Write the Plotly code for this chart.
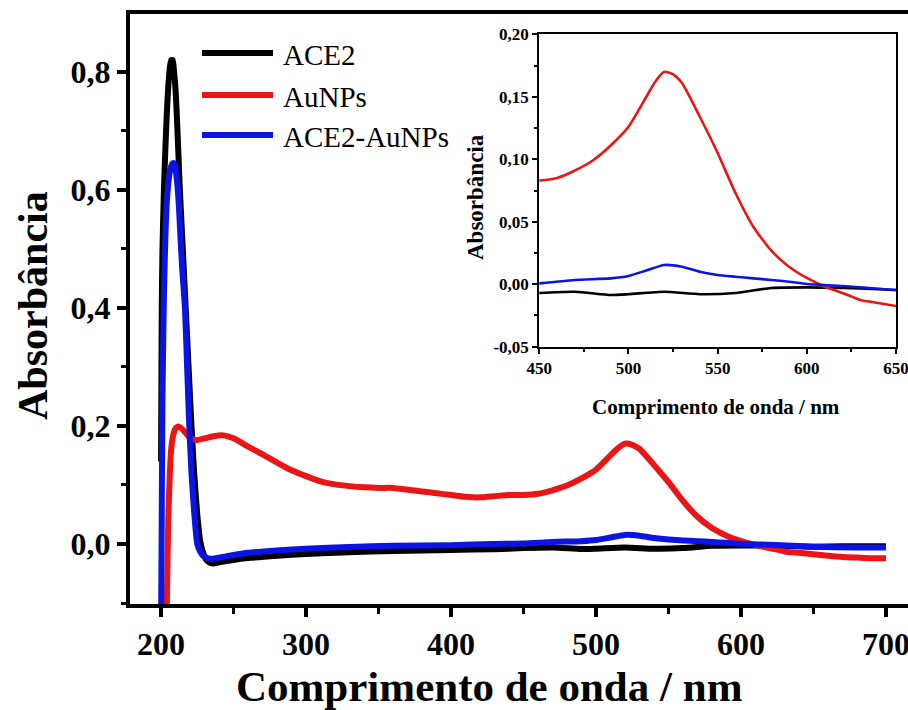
import plotly.graph_objects as go

# ---------------- data ----------------
ace2_nm = [200, 200.5, 201, 202, 203, 204, 205, 206, 207, 208, 209, 210, 211, 212, 213,
           215, 217, 219, 221, 223, 225, 227, 229, 231, 233, 236, 240, 250, 260, 280,
           300, 330, 360, 400, 430, 450, 470, 490, 500, 520, 540, 560, 580, 600, 620,
           640, 650, 670, 700]
ace2_abs = [0.14, 0.40, 0.50, 0.60, 0.67, 0.73, 0.775, 0.805, 0.82, 0.82, 0.80, 0.77, 0.72, 0.66, 0.60,
            0.50, 0.40, 0.30, 0.20, 0.115, 0.05, 0.005, -0.015, -0.026, -0.031, -0.033, -0.031, -0.027, -0.024, -0.020,
            -0.017, -0.014, -0.012, -0.010, -0.009, -0.007, -0.006, -0.0086, -0.008, -0.006, -0.008, -0.007, -0.003, -0.0025, -0.003,
            -0.004, -0.0046, -0.004, -0.004]

aunp_nm = [200, 202, 203, 204, 205, 206, 207, 208, 209, 210.5, 212, 214, 217, 220, 224,
           230, 237, 243, 250, 260, 270, 280, 290, 300, 310, 320, 330, 340, 350, 360,
           370, 380, 390, 400, 410, 420, 430, 440, 450, 460, 470, 480, 490, 500, 510,
           515, 520, 525, 530, 540, 550, 560, 570, 580, 590, 600, 610, 620, 630, 640,
           650, 660, 670, 680, 690, 700]
aunp_abs = [-0.6, -0.4, -0.25, -0.10, 0.04, 0.115, 0.16, 0.18, 0.19, 0.197, 0.199, 0.196, 0.188, 0.180, 0.176,
            0.179, 0.183, 0.184, 0.179, 0.165, 0.152, 0.138, 0.125, 0.115, 0.106, 0.101, 0.098, 0.096, 0.095, 0.095,
            0.092, 0.089, 0.086, 0.083, 0.080, 0.079, 0.081, 0.083, 0.083, 0.085, 0.091, 0.099, 0.111, 0.126, 0.150,
            0.162, 0.170, 0.168, 0.161, 0.134, 0.105, 0.073, 0.046, 0.027, 0.014, 0.005, -0.002, -0.007, -0.0126, -0.015,
            -0.0175, -0.020, -0.022, -0.023, -0.024, -0.024]

mix_nm = [200, 200.5, 201, 202, 203, 204, 205, 206, 207, 208, 209, 210, 211, 212, 213,
          214.5, 216.5, 218, 219.5, 221, 223, 225, 227, 229, 231, 234, 238, 245, 260, 280,
          300, 330, 360, 400, 430, 450, 470, 490, 500, 510, 520, 530, 540, 550, 560,
          570, 580, 590, 600, 620, 650, 680, 700]
mix_abs = [-0.15, 0.05, 0.25, 0.42, 0.52, 0.58, 0.61, 0.63, 0.64, 0.645, 0.645, 0.635, 0.615, 0.585, 0.54,
           0.47, 0.40, 0.30, 0.20, 0.12, 0.05, 0.0, -0.013, -0.020, -0.023, -0.025, -0.024, -0.021, -0.015, -0.011,
           -0.008, -0.005, -0.003, -0.002, 0.0, 0.0007, 0.0034, 0.0047, 0.0066, 0.011, 0.0154, 0.014, 0.010, 0.0074, 0.006,
           0.0047, 0.0034, 0.002, 0.0002, -0.0014, -0.0046, -0.006, -0.006]

series_names = ["ACE2", "AuNPs", "ACE2-AuNPs"]
series_x = [ace2_nm, aunp_nm, mix_nm]
series_y = [ace2_abs, aunp_abs, mix_abs]
series_colors = ["#000000", "#ec1515", "#0b14e4"]

main_x_ticks = [200, 300, 400, 500, 600, 700]
inset_x_ticks = [450, 500, 550, 600, 650]
main_y_ticks = [0.0, 0.2, 0.4, 0.6, 0.8]
main_y_labels = ["0,0", "0,2", "0,4", "0,6", "0,8"]
inset_y_ticks = [-0.05, 0.0, 0.05, 0.10, 0.15, 0.20]
inset_y_labels = ["-0,05", "0,00", "0,05", "0,10", "0,15", "0,20"]

SERIF = "Liberation Serif"

fig = go.Figure()

# main plot
for name, xs, ys, col in zip(series_names, series_x, series_y, series_colors):
    fig.add_trace(go.Scatter(x=xs, y=ys, mode="lines", name=name, showlegend=False,
                             line=dict(color=col, width=6, shape="spline", smoothing=0.6),
                             xaxis="x", yaxis="y"))
# inset
for name, xs, ys, col in zip(series_names, series_x, series_y, series_colors):
    fig.add_trace(go.Scatter(x=xs, y=ys, mode="lines", name=name, showlegend=False,
                             line=dict(color=col, width=2.6, shape="spline", smoothing=0.6),
                             xaxis="x2", yaxis="y2"))

W, H = 908, 710
L, R, T, B = 130, 0, 14, 106
pw, ph = W - L - R, H - T - B

def px(xp):
    return (xp - L) / pw

def py(yp):
    return (H - B - yp) / ph

fig.update_layout(
    width=W, height=H,
    margin=dict(l=L, r=R, t=T, b=B, pad=0, autoexpand=False),
    paper_bgcolor="white", plot_bgcolor="white",
    showlegend=False,
    xaxis=dict(domain=[0, 1], range=[178.6, 715.2], showgrid=False, zeroline=False,
               showline=True, linecolor="black", linewidth=4, mirror=True,
               ticks="outside", ticklen=9, tickwidth=3.5, tickcolor="black",
               tickmode="array", tickvals=main_x_ticks, ticklabeloverflow="allow", automargin=False,
               minor=dict(ticks="outside", ticklen=6, tickwidth=3, tickcolor="black",
                          tickmode="linear", dtick=50, tick0=200),
               tickfont=dict(family=SERIF, size=32, color="black", weight="bold"),
               anchor="y"),
    yaxis=dict(domain=[0, 1], range=[-0.1017, 0.898], showgrid=False, zeroline=False,
               showline=True, linecolor="black", linewidth=4, mirror=False,
               ticks="outside", ticklen=9, tickwidth=3.5, tickcolor="black",
               tickmode="array", tickvals=main_y_ticks, ticktext=main_y_labels, automargin=False,
               minor=dict(ticks="outside", ticklen=5, tickwidth=3, tickcolor="black",
                          tickmode="linear", dtick=0.1, tick0=0),
               tickfont=dict(family=SERIF, size=32, color="black", weight="bold"),
               anchor="x"),
    xaxis2=dict(domain=[px(539.3), px(896)], range=[450, 650], showgrid=False, zeroline=False,
                showline=True, linecolor="black", linewidth=2.2, mirror=True,
                ticks="outside", ticklen=5, tickwidth=2, tickcolor="black",
                tickmode="array", tickvals=inset_x_ticks, ticklabeloverflow="allow", automargin=False,
                minor=dict(ticks="outside", ticklen=3, tickwidth=2, tickcolor="black",
                           tickmode="linear", dtick=25, tick0=450),
                tickfont=dict(family=SERIF, size=17, color="black", weight="bold"),
                anchor="y2"),
    yaxis2=dict(domain=[py(346.7), py(34.3)], range=[-0.05, 0.2], showgrid=False, zeroline=False,
                showline=True, linecolor="black", linewidth=2.2, mirror=True,
                ticks="outside", ticklen=5, tickwidth=2, tickcolor="black",
                tickmode="array", tickvals=inset_y_ticks, ticktext=inset_y_labels, automargin=False,
                minor=dict(ticks="outside", ticklen=3, tickwidth=2, tickcolor="black",
                           tickmode="linear", dtick=0.025, tick0=0),
                tickfont=dict(family=SERIF, size=17, color="black", weight="bold"),
                anchor="x2"),
)

annotations = [
    dict(text="<b>Comprimento de onda / nm</b>", x=px(489), y=py(686), xref="paper", yref="paper",
         xanchor="center", yanchor="middle", showarrow=False,
         font=dict(family=SERIF, size=43, color="black")),
    dict(text="<b>Absorbância</b>", x=px(33), y=py(306), xref="paper", yref="paper",
         xanchor="center", yanchor="middle", showarrow=False, textangle=-90,
         font=dict(family=SERIF, size=42, color="black")),
    dict(text="<b>Comprimento de onda / nm</b>", x=px(716), y=py(407), xref="paper", yref="paper",
         xanchor="center", yanchor="middle", showarrow=False,
         font=dict(family=SERIF, size=21, color="black")),
    dict(text="<b>Absorbância</b>", x=px(475), y=py(197), xref="paper", yref="paper",
         xanchor="center", yanchor="middle", showarrow=False, textangle=-90,
         font=dict(family=SERIF, size=23, color="black")),
]

# manual legend
legend_rows = [53, 95, 135]
shapes = []
for name, col, yr in zip(series_names, series_colors, legend_rows):
    shapes.append(dict(type="line", xref="paper", yref="paper",
                       x0=px(202), x1=px(273), y0=py(yr), y1=py(yr),
                       line=dict(color=col, width=6)))
    annotations.append(dict(text=name, x=px(281), y=py(yr + 2), xref="paper", yref="paper",
                            xanchor="left", yanchor="middle", showarrow=False,
                            font=dict(family=SERIF, size=29, color="black")))

fig.update_layout(annotations=annotations, shapes=shapes)

fig.write_html("out.html")
